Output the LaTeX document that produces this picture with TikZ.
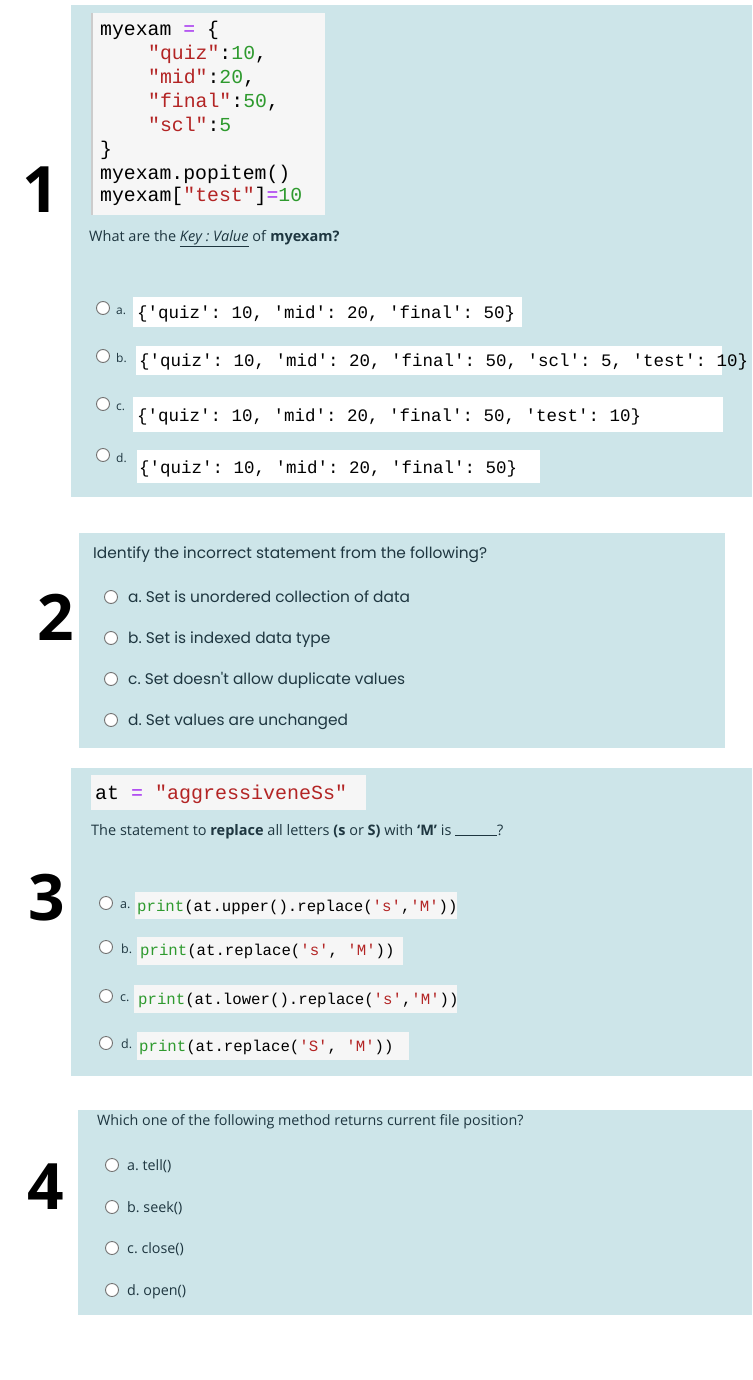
\documentclass[tikz,border=0pt]{standalone}
\usepackage{fontspec}
\setmainfont{Open Sans}
\newfontfamily\codef[WordSpace={1,0,0}]{Liberation Mono}
\newfontfamily\qtwo{Poppins}
\frenchspacing
\definecolor{panel}{HTML}{CDE5E9}
\definecolor{codebg}{HTML}{F6F6F6}
\definecolor{cgreen}{HTML}{2E9A2E}
\definecolor{cred}{HTML}{B32424}
\definecolor{cpurp}{HTML}{A22AF0}
\definecolor{txt}{HTML}{1E3640}
\newcommand{\G}[1]{\textcolor{cgreen}{#1}}
\newcommand{\R}[1]{\textcolor{cred}{#1}}
\newcommand{\Pu}[1]{\textcolor{cpurp}{#1}}
\tikzset{
 panelbox/.style={fill=panel,draw=none},
 cbox/.style={fill=codebg,draw=none},
 wbox/.style={fill=white,draw=none},
 radio/.style={circle,anchor=center,draw=black!55,fill=white,line width=0.9pt,minimum size=13pt,inner sep=0pt},
 lbl/.style={anchor=base west,inner sep=0pt,text=txt},
 num/.style={font=\fontsize{64}{64}\selectfont\bfseries,text=black,inner sep=0pt},
}
\begin{document}
\begin{tikzpicture}[x=1pt,y=-1pt]
\useasboundingbox[fill=white] (0,0) rectangle (752,1380);
% ---------- panel 1
\fill[panelbox] (71,5) rectangle (752,497);
\fill[cbox] (91,13) rectangle (325,215);
\draw[black!20,line width=2pt] (92,13) -- (92,215);
\begin{scope}[every node/.style={anchor=base west,inner sep=0pt,font=\codef\frenchspacing\fontsize{19.8}{20}\selectfont}]
\node (c1) at (100,36) {myexam \Pu{=} \{};
\node (c2) at (148,60) {\R{"quiz"}:\G{10},};
\node (c3) at (148,84) {\R{"mid"}:\G{20},};
\node (c4) at (148,108) {\R{"final"}:\G{50},};
\node (c5) at (148,132) {\R{"scl"}:\G{5}};
\node (c6) at (100,156) {\}};
\node (c7) at (100,180) {myexam.popitem()};
\node (c8) at (100,202) {myexam[\R{"test"}]\Pu{=}\G{10}};
\end{scope}
\node[num] (n1) at (41,190) {1};
\node[lbl,font=\fontsize{14.5}{15}\selectfont] (q1) at (89,241) {What are the \underline{\textit{Key : Value}} of \textbf{myexam?}};
\begin{scope}[every node/.style={anchor=base west,inner sep=0pt,font=\codef\frenchspacing\fontsize{17.5}{18}\selectfont}]
\fill[wbox] (133,297) rectangle (522,327);
\node (oa) at (137,318) {\{'quiz': 10, 'mid': 20, 'final': 50\}};
\fill[wbox] (136,346) rectangle (722,375);
\node (ob) at (139,366) {\{'quiz': 10, 'mid': 20, 'final': 50, 'scl': 5, 'test': 10\}};
\fill[wbox] (133,397) rectangle (723,432);
\node (oc) at (137,421) {\{'quiz': 10, 'mid': 20, 'final': 50, 'test': 10\}};
\fill[wbox] (137,450) rectangle (540,483);
\node (od) at (139,473) {\{'quiz': 10, 'mid': 20, 'final': 50\}};
\end{scope}
\begin{scope}[every node/.style={lbl,font=\fontsize{12}{12}\selectfont}]
\node[radio] (r1a) at (103,308) {}; \node (l1a) at (116,314) {a.};
\node[radio] (r1b) at (103,356) {}; \node (l1b) at (116,362) {b.};
\node[radio] (r1c) at (103,404) {}; \node (l1c) at (116,410) {c.};
\node[radio] (r1d) at (103,455) {}; \node (l1d) at (116,462) {d.};
\end{scope}
% ---------- panel 2
\fill[panelbox] (79,533) rectangle (725,748);
\node[num] (n2) at (56,617) {2};
\begin{scope}[every node/.style={lbl,font=\qtwo\fontsize{15.4}{15}\selectfont}]
\node (q2) at (93,558) {Identify the incorrect statement from the following?};
\node[radio] (r2a) at (111,597) {}; \node (l2a) at (128,602) {a. Set is unordered collection of data};
\node[radio] (r2b) at (111,638) {}; \node (l2b) at (128,643) {b. Set is indexed data type};
\node[radio] (r2c) at (111,679) {}; \node (l2c) at (128,684) {c. Set doesn't allow duplicate values};
\node[radio] (r2d) at (111,720) {}; \node (l2d) at (128,725) {d. Set values are unchanged};
\end{scope}
% ---------- panel 3
\fill[panelbox] (71,768) rectangle (752,1076);
\fill[cbox] (91,775) rectangle (366,810);
\node[anchor=base west,inner sep=0pt,font=\codef\fontsize{20}{20}\selectfont] (c9) at (95,799) {at \Pu{=} \R{"aggressiveneSs"}};
\node[num] (n3) at (47,898) {3};
\node[lbl,font=\fontsize{14.5}{15}\selectfont] (q3) at (91,835) {The statement to \textbf{replace} all letters \textbf{(s} or \textbf{S)} with \textbf{‘M’} is \rule[-1pt]{42pt}{0.6pt}?};
\fill[cbox] (135,892) rectangle (457,919);
\fill[cbox] (137,937) rectangle (403,965);
\fill[cbox] (134,985) rectangle (457,1013);
\fill[cbox] (137,1032) rectangle (409,1060);
\begin{scope}[every node/.style={anchor=base west,inner sep=0pt,font=\codef\frenchspacing\fontsize{15.7}{16}\selectfont}]
\node (p3a) at (137,911) {\G{print}(at.upper().replace(\R{'s'},\R{'M'}))};
\node (p3b) at (140,955) {\G{print}(at.replace(\R{'s'}, \R{'M'}))};
\node (p3c) at (138,1004) {\G{print}(at.lower().replace(\R{'s'},\R{'M'}))};
\node (p3d) at (139,1051) {\G{print}(at.replace(\R{'S'}, \R{'M'}))};
\end{scope}
\begin{scope}[every node/.style={lbl,font=\fontsize{12.5}{13}\selectfont}]
\node[radio] (r3a) at (106,903) {}; \node (l3a) at (120,908) {a.};
\node[radio] (r3b) at (106,947) {}; \node (l3b) at (121,953) {b.};
\node[radio] (r3c) at (106,996) {}; \node (l3c) at (120,1001) {c.};
\node[radio] (r3d) at (106,1043) {}; \node (l3d) at (121,1048) {d.};
\end{scope}
% ---------- panel 4
\fill[panelbox] (78,1110) rectangle (752,1315);
\node[num] (n4) at (46,1187) {4};
\begin{scope}[every node/.style={lbl,font=\fontsize{14.3}{14}\selectfont}]
\node (q4) at (97,1125) {Which one of the following method returns current file position?};
\node[radio] (r4a) at (112,1165) {}; \node (l4a) at (127,1170) {a. tell()};
\node[radio] (r4b) at (112,1207) {}; \node (l4b) at (127,1212) {b. seek()};
\node[radio] (r4c) at (112,1248) {}; \node (l4c) at (127,1253) {c. close()};
\node[radio] (r4d) at (112,1290) {}; \node (l4d) at (127,1295) {d. open()};
\end{scope}
\end{tikzpicture}
\end{document}
